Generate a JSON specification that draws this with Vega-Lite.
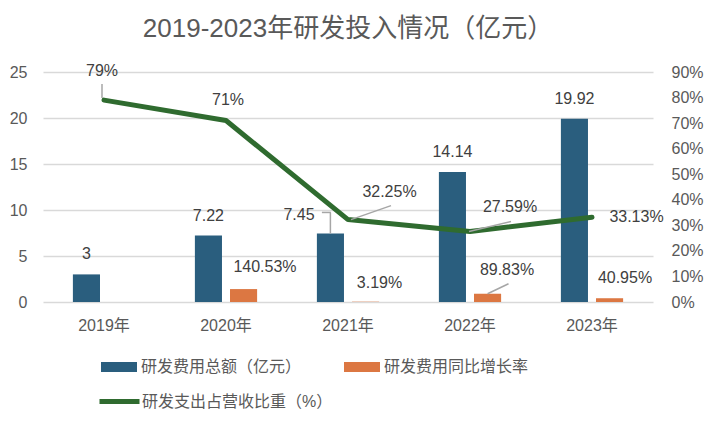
{
  "$schema": "https://vega.github.io/schema/vega-lite/v6.json",
  "width": 610,
  "height": 230,
  "autosize": {"type": "none"},
  "padding": {"left": 43, "top": 72, "right": 61, "bottom": 124},
  "background": "white",
  "title": {
    "text": "2019-2023年研发投入情况（亿元）",
    "fontSize": 26,
    "font": "'Liberation Sans', 'Noto Sans CJK SC', sans-serif",
    "fontWeight": "normal",
    "color": "#595959",
    "anchor": "middle",
    "offset": 21
  },
  "config": {
    "view": {"stroke": null},
    "font": "'Liberation Sans', 'Noto Sans CJK SC', sans-serif",
    "text": {"font": "'Liberation Sans', 'Noto Sans CJK SC', sans-serif", "fontSize": 16, "color": "#404040", "baseline": "middle", "align": "center"},
    "legend": {"labelFont": "'Liberation Sans', 'Noto Sans CJK SC', sans-serif", "labelFontSize": 16, "labelColor": "#595959", "labelOffset": 4, "labelLimit": 0, "padding": 0}
  },
  "datasets": {
    "bars": [
      {"year": "2019年", "series": "研发费用总额（亿元）", "value": 3},
      {"year": "2020年", "series": "研发费用总额（亿元）", "value": 7.22},
      {"year": "2021年", "series": "研发费用总额（亿元）", "value": 7.45},
      {"year": "2022年", "series": "研发费用总额（亿元）", "value": 14.14},
      {"year": "2023年", "series": "研发费用总额（亿元）", "value": 19.92},
      {"year": "2020年", "series": "研发费用同比增长率", "value": 1.4053},
      {"year": "2021年", "series": "研发费用同比增长率", "value": 0.0319},
      {"year": "2022年", "series": "研发费用同比增长率", "value": 0.8983},
      {"year": "2023年", "series": "研发费用同比增长率", "value": 0.4095}
    ],
    "ratio": [
      {"year": "2019年", "ratio": 0.79},
      {"year": "2020年", "ratio": 0.71},
      {"year": "2021年", "ratio": 0.3225},
      {"year": "2022年", "ratio": 0.2759},
      {"year": "2023年", "ratio": 0.3313}
    ]
  },
  "layer": [
    {
      "data": {"name": "bars"},
      "encoding": {
        "x": {
          "field": "year", "type": "nominal", "title": null,
          "scale": {"paddingInner": 0.49, "paddingOuter": 0.245},
          "axis": {"labelAngle": 0, "labelFontSize": 16, "labelColor": "#595959", "labelPadding": 15, "ticks": false, "domain": false}
        },
        "y": {
          "field": "value", "type": "quantitative", "title": null,
          "scale": {"domain": [0, 25], "nice": false},
          "axis": {"values": [0, 5, 10, 15, 20, 25], "grid": true, "gridColor": "#D9D9D9", "gridWidth": 1.5, "domain": false, "ticks": false, "labelFontSize": 16, "labelColor": "#595959", "labelPadding": 16}
        }
      },
      "layer": [
        {
          "mark": {"type": "bar"},
          "encoding": {
            "xOffset": {"field": "series", "type": "nominal", "sort": ["研发费用总额（亿元）", "研发费用同比增长率"], "scale": {"paddingInner": 0.229, "paddingOuter": 0}},
            "color": {
              "field": "series", "type": "nominal", "sort": ["研发费用总额（亿元）", "研发费用同比增长率"],
              "scale": {"domain": ["研发费用总额（亿元）", "研发费用同比增长率"], "range": ["#2A5E7E", "#DC7742"]},
              "legend": {"title": null, "orient": "none", "legendX": 58, "legendY": 277, "direction": "horizontal", "columns": 2, "columnPadding": 42, "symbolType": "M-1,-0.28H1V0.28H-1Z", "symbolSize": 1296, "symbolStrokeWidth": 0, "symbolOpacity": 1}
            }
          }
        },
        {
          "transform": [{"filter": "datum.series == '研发费用总额（亿元）' && datum.year != '2021年'"}],
          "mark": {"type": "text", "dx": -17.6, "dy": -20},
          "encoding": {"text": {"field": "value", "type": "quantitative", "format": "~g"}}
        },
        {
          "transform": [{"filter": "datum.series == '研发费用总额（亿元）' && datum.year == '2021年'"}],
          "mark": {"type": "text", "dx": -49, "dy": -18},
          "encoding": {"text": {"field": "value", "type": "quantitative", "format": "~g"}}
        },
        {
          "transform": [{"filter": "datum.series == '研发费用总额（亿元）' && datum.year == '2021年'"}],
          "mark": {"type": "rule", "color": "#A6A6A6", "strokeWidth": 1.5, "xOffset": -17.6, "y2Offset": -21},
          "encoding": {"y2": {"field": "value"}}
        },
        {
          "transform": [{"filter": "datum.series == '研发费用总额（亿元）' && datum.year == '2021年'"}],
          "mark": {"type": "tick", "color": "#A6A6A6", "thickness": 1.5, "size": 9, "xOffset": -21.6, "yOffset": -21, "orient": "horizontal", "opacity": 1},
          "encoding": {}
        },
        {
          "transform": [{"filter": "datum.series == '研发费用同比增长率' && datum.year == '2020年'"}],
          "mark": {"type": "text", "dx": 39, "dy": -22},
          "encoding": {"text": {"field": "value", "type": "quantitative", "format": "~%"}}
        },
        {
          "transform": [{"filter": "datum.series == '研发费用同比增长率' && datum.year == '2021年'"}],
          "mark": {"type": "text", "dx": 31.5, "dy": -19},
          "encoding": {"text": {"field": "value", "type": "quantitative", "format": "~%"}}
        },
        {
          "transform": [{"filter": "datum.series == '研发费用同比增长率' && datum.year == '2022年'"}],
          "mark": {"type": "text", "dx": 37, "dy": -24},
          "encoding": {"text": {"field": "value", "type": "quantitative", "format": "~%"}}
        },
        {
          "transform": [{"filter": "datum.series == '研发费用同比增长率' && datum.year == '2023年'"}],
          "mark": {"type": "text", "dx": 33, "dy": -20},
          "encoding": {"text": {"field": "value", "type": "quantitative", "format": "~%"}}
        },
        {
          "transform": [{"filter": "datum.series == '研发费用同比增长率' && datum.year == '2022年'"}],
          "mark": {"type": "rule", "color": "#A6A6A6", "strokeWidth": 1.5, "xOffset": 17.6, "x2Offset": 38.5, "y2Offset": -10},
          "encoding": {"x2": {"field": "year"}, "y2": {"field": "value"}}
        }
      ]
    },
    {
      "data": {"name": "ratio"},
      "encoding": {
        "x": {
          "field": "year", "type": "nominal", "title": null,
          "axis": {"labelAngle": 0, "labelFontSize": 16, "labelColor": "#595959", "labelPadding": 15, "ticks": false, "domain": false}
        },
        "y": {
          "field": "ratio", "type": "quantitative", "title": null,
          "scale": {"domain": [0, 0.9], "nice": false},
          "axis": {"orient": "right", "format": ".0%", "values": [0, 0.1, 0.2, 0.3, 0.4, 0.5, 0.6, 0.7, 0.8, 0.9], "grid": false, "domain": false, "ticks": false, "labelFontSize": 16, "labelColor": "#595959", "labelPadding": 18}
        }
      },
      "layer": [
        {
          "mark": {"type": "line", "strokeWidth": 5, "strokeJoin": "round", "strokeCap": "round"},
          "encoding": {
            "stroke": {
              "datum": "研发支出占营收比重（%）", "type": "nominal",
              "scale": {"range": ["#2F6B2F"]},
              "legend": {"title": null, "orient": "none", "legendX": 54, "legendY": 307, "symbolType": "stroke", "symbolSize": 1600, "symbolStrokeWidth": 5, "labelOffset": 0}
            }
          }
        },
        {
          "transform": [{"filter": "datum.year == '2019年'"}],
          "mark": {"type": "rule", "color": "#A6A6A6", "strokeWidth": 1.5, "xOffset": -2, "yOffset": -2, "y2Offset": -16},
          "encoding": {"y2": {"field": "ratio"}}
        },
        {
          "transform": [{"filter": "datum.year == '2021年'"}],
          "mark": {"type": "rule", "color": "#A6A6A6", "strokeWidth": 1.5, "xOffset": 3, "x2Offset": 43, "y2Offset": -14},
          "encoding": {"x2": {"field": "year"}, "y2": {"field": "ratio"}}
        },
        {
          "transform": [{"filter": "datum.year == '2022年'"}],
          "mark": {"type": "rule", "color": "#A6A6A6", "strokeWidth": 1.5, "xOffset": -1, "x2Offset": 41, "y2Offset": -10},
          "encoding": {"x2": {"field": "year"}, "y2": {"field": "ratio"}}
        },
        {
          "transform": [{"filter": "datum.year == '2019年'"}],
          "mark": {"type": "text", "dx": -2, "dy": -29},
          "encoding": {"text": {"field": "ratio", "type": "quantitative", "format": "~%"}}
        },
        {
          "transform": [{"filter": "datum.year == '2020年'"}],
          "mark": {"type": "text", "dx": 2, "dy": -21},
          "encoding": {"text": {"field": "ratio", "type": "quantitative", "format": "~%"}}
        },
        {
          "transform": [{"filter": "datum.year == '2021年'"}],
          "mark": {"type": "text", "dx": 41.5, "dy": -27.5},
          "encoding": {"text": {"field": "ratio", "type": "quantitative", "format": "~%"}}
        },
        {
          "transform": [{"filter": "datum.year == '2022年'"}],
          "mark": {"type": "text", "dx": 40, "dy": -24.5},
          "encoding": {"text": {"field": "ratio", "type": "quantitative", "format": "~%"}}
        },
        {
          "transform": [{"filter": "datum.year == '2023年'"}],
          "mark": {"type": "text", "dx": 44.5, "dy": 0},
          "encoding": {"text": {"field": "ratio", "type": "quantitative", "format": "~%"}}
        }
      ]
    }
  ],
  "resolve": {"scale": {"y": "independent"}}
}
